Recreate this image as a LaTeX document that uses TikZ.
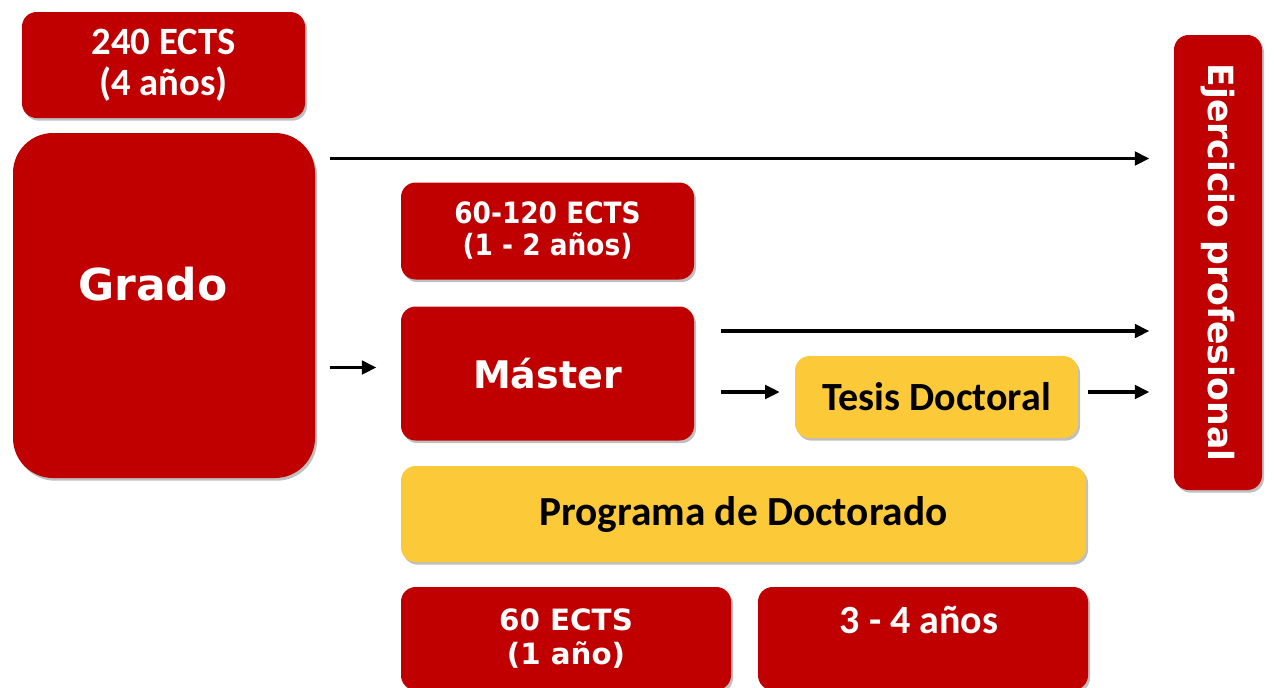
\documentclass[tikz,border=0pt]{standalone}
\usepackage{fontspec}
\setmainfont{Carlito}
\newfontfamily\verdfont{DejaVu Sans}
\newfontfamily\verdcfont{DejaVu Sans Condensed}
\usetikzlibrary{arrows.meta,calc,shadows}

\definecolor{boxred}{RGB}{192,0,0}
\definecolor{boxyellow}{RGB}{252,201,56}

\tikzset{every picture/.style={line width=0.75pt}}
\tikzset{
  redbox/.style={fill=boxred, text=white, rounded corners=11pt, inner sep=0pt, align=center,
    drop shadow={shadow xshift=1.5pt, shadow yshift=-2pt, opacity=0.25, fill=black}},
  yellowbox/.style={redbox, fill=boxyellow, text=black},
  flecha/.style={line width=2.75, -{Triangle[length=11pt,width=10pt]}, shorten >=18pt},
}

\begin{document}
\begin{tikzpicture}[x=0.75pt,y=0.75pt,yscale=-1,xscale=1]
\useasboundingbox (0,0) rectangle (1274,687);
\clip (0,0) rectangle (1274,687);

%Rounded Rect: 240 ECTS
\node [redbox, minimum width=212.25pt, minimum height=79.5pt, font=\fontsize{29}{31}\selectfont\bfseries] (ects240) at (163.5,65) {240 ECTS\\(4 años)};
%Rounded Rect: Grado
\node [redbox, rounded corners=30pt, minimum width=226.5pt, minimum height=258.75pt] (grado) at (164,305.5) {};
% Text Node
\node [text=white, font=\verdfont\fontsize{33}{36}\selectfont\bfseries] (gradotxt) at ($(grado)+(-11,-21)$) {Grado};

%Rounded Rect: 60-120 ECTS
\node [redbox, minimum width=219.75pt, minimum height=72.75pt, font=\verdcfont\fontsize{22}{24}\selectfont\bfseries] (ects120) at (547.5,231) {60-120 ECTS\\(1 - 2 años)};
%Rounded Rect: Master
\node [redbox, minimum width=219.75pt, minimum height=100.5pt, font=\verdfont\fontsize{28.5}{32}\selectfont\bfseries] (master) at (547.5,373.5) {Máster};
%Rounded Rect: Tesis
\node [yellowbox, minimum width=212.25pt, minimum height=61.5pt, font=\fontsize{30}{32}\selectfont\bfseries] (tesis) at (936.5,397) {Tesis Doctoral};
%Rounded Rect: Programa
\node [yellowbox, minimum width=513.75pt, minimum height=72pt, font=\fontsize{31}{33}\selectfont\bfseries] (programa) at (743.5,514) {Programa de Doctorado};
%Rounded Rect: 60 ECTS
\node [redbox, minimum width=247.5pt, minimum height=77.25pt, font=\verdfont\fontsize{22}{26}\selectfont\bfseries] (ects60) at (566,638.5) {60 ECTS\\(1 año)};
%Rounded Rect: 3-4 anios
\node [redbox, minimum width=247.5pt, minimum height=77.25pt] (anios) at (923,638.5) {};
% Text Node
\node [text=white, font=\fontsize{30}{32}\selectfont\bfseries] (aniostxt) at ($(anios)+(-4,-19)$) {3 - 4 años};
%Rounded Rect: Ejercicio
\node [redbox, minimum width=66pt, minimum height=341.25pt, font=\verdfont\fontsize{26}{28}\selectfont\bfseries] (ejer) at (1218,262.5) {\rotatebox{-90}{Ejercicio profesional}};

%Straight Lines
\coordinate (g1) at ($(grado.north east)+(14,26)$);
\draw [flecha] (g1) -- (g1 -| ejer.west);
\coordinate (g2) at ($(grado.east |- master.west)+(14,-6)$);
\draw [flecha] (g2) -- (g2 -| master.west);
\coordinate (m1) at ($(master.north east)+(26,25)$);
\draw [flecha] (m1) -- (m1 -| ejer.west);
\coordinate (m2) at ($(master.east |- tesis.west)+(26,-5)$);
\draw [flecha, shorten >=11pt] (m2) -- (m2 -| tesis.west);
\coordinate (t1) at ($(tesis.east)+(9,-5)$);
\draw [flecha] (t1) -- (t1 -| ejer.west);

\end{tikzpicture}
\end{document}
